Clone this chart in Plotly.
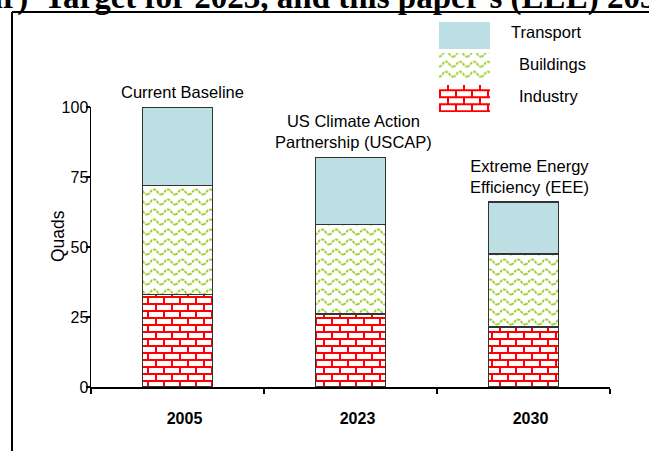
import plotly.graph_objects as go

# ---- data -------------------------------------------------------------
years = ["2005", "2023", "2030"]
scenarios = ["Current Baseline", "US Climate Action<br>Partnership (USCAP)",
             "Extreme Energy<br>Efficiency (EEE)"]
industry = [33, 26, 21.5]
buildings = [39, 32, 26]
transport = [28, 24, 18.5]
series_names = ["Industry", "Buildings", "Transport"]
y_ticks = [0, 25, 50, 75, 100]

W, H = 649, 451
FONT = "Liberation Sans, Arial, sans-serif"

# plot rectangle in pixels
PX0, PX1, PY_TOP, PY_BOT = 91, 610, 107, 387


def px(x):
    return x / W


def py(y):
    return 1 - y / H


TRANSPORT_FILL = "#BBDFE3"
BRICK_RED = "#ff0000"
WAVE_GREEN = "#9acd32"
OUTLINE = dict(color="#333333", width=1.5)

fig = go.Figure()

# stacked bars: industry (bricks), buildings (waves), transport (plain)
fig.add_trace(go.Bar(
    x=years, y=industry, name="Industry", width=0.405,
    marker=dict(color="white", line=OUTLINE,
                pattern=dict(shape="+", fgcolor=BRICK_RED, bgcolor="white",
                             size=10, solidity=0.3)),
    showlegend=False, hoverinfo="skip"))
fig.add_trace(go.Bar(
    x=years, y=buildings, name="Buildings", width=0.405,
    marker=dict(color="white", line=OUTLINE,
                pattern=dict(shape="-", fgcolor=WAVE_GREEN, bgcolor="white",
                             size=10, solidity=0.2)),
    showlegend=False, hoverinfo="skip"))
fig.add_trace(go.Bar(
    x=years, y=transport, name="Transport", width=0.405,
    marker=dict(color=TRANSPORT_FILL, line=OUTLINE),
    showlegend=False, hoverinfo="skip"))

# legend swatches drawn as bars on a hidden helper axis
swatch_style = {
    "Industry": dict(color="white",
                     pattern=dict(shape="+", fgcolor=BRICK_RED, bgcolor="white",
                                  size=10, solidity=0.3)),
    "Buildings": dict(color="white",
                      pattern=dict(shape="-", fgcolor=WAVE_GREEN, bgcolor="white",
                                   size=10, solidity=0.2)),
    "Transport": dict(color=TRANSPORT_FILL),
}
for name in series_names:
    fig.add_trace(go.Bar(
        x=[1], y=[name], orientation="h", width=0.853,
        marker=dict(line=dict(width=0), **swatch_style[name]),
        xaxis="x2", yaxis="y2", showlegend=False, hoverinfo="skip"))

annotations = []
# scenario labels above each bar
label_pos = [(182, 92), (353, 131.5), (529, 176)]
for (lx, ly), text in zip(label_pos, scenarios):
    annotations.append(dict(
        x=px(lx), y=py(ly), xref="paper", yref="paper", text=text,
        showarrow=False, xanchor="center", yanchor="middle",
        font=dict(family=FONT, size=16.5, color="black")))

# legend labels
legend_pos = [(509, 32), (517, 64), (517, 96)]
for (lx, ly), text in zip(legend_pos, ["Transport", "Buildings", "Industry"]):
    annotations.append(dict(
        x=px(lx), y=py(ly), xref="paper", yref="paper", text=text,
        showarrow=False, xanchor="left", yanchor="middle",
        font=dict(family=FONT, size=16.5, color="black")))

# y-axis title
annotations.append(dict(
    x=px(58), y=py(236), xref="paper", yref="paper", text="Quads",
    textangle=-90, showarrow=False, xanchor="center", yanchor="middle",
    font=dict(family=FONT, size=17.5, color="black")))

# heading line running off the top of the page
TITLE_FONT = dict(family="Liberation Serif, Times New Roman, serif",
                  size=33, color="black", weight="bold")
annotations.append(dict(
    x=px(30), y=py(-3), xref="paper", yref="paper", text="year)",
    showarrow=False, xanchor="right", yanchor="middle", font=TITLE_FONT))
annotations.append(dict(
    x=px(42), y=py(-3), xref="paper", yref="paper",
    text="Target for 2023, and this paper's (EEE) 2030",
    showarrow=False, xanchor="left", yanchor="middle", font=TITLE_FONT))

# page frame: top and left rules
shapes = [
    dict(type="line", xref="paper", yref="paper", x0=px(12), x1=1.0,
         y0=py(12), y1=py(12), line=dict(color="black", width=2)),
    dict(type="line", xref="paper", yref="paper", x0=px(12), x1=px(12),
         y0=py(12), y1=0, line=dict(color="black", width=2)),
]

fig.update_layout(
    width=W, height=H, autosize=False,
    margin=dict(l=0, r=0, t=0, b=0, pad=0, autoexpand=False),
    paper_bgcolor="white", plot_bgcolor="white",
    barmode="stack", bargap=0,
    annotations=annotations, shapes=shapes,
    xaxis=dict(domain=[px(PX0), px(PX1)], type="category",
               categoryorder="array", categoryarray=years,
               range=[-0.5, 2.5], showline=True, linecolor="black",
               linewidth=1.5, ticks="outside", ticklen=5, tickcolor="black",
               tickwidth=1.2, tickson="boundaries", showgrid=False,
               tickfont=dict(family=FONT, size=16, color="black",
                             weight="bold"),
               ticklabelstandoff=16, ticklabelshift=7, zeroline=False),
    yaxis=dict(domain=[py(PY_BOT), py(PY_TOP)], range=[0, 100],
               tickvals=y_ticks, showline=True, linecolor="black",
               linewidth=1.5, ticks="outside", ticklen=4, tickcolor="black",
               tickwidth=1.2, showgrid=False, zeroline=False,
               tickfont=dict(family=FONT, size=16, color="black"),
               ticklabelstandoff=-6),
    xaxis2=dict(domain=[px(439), px(490)], range=[0, 1], visible=False,
                anchor="y2", fixedrange=True),
    yaxis2=dict(domain=[py(114.25), py(19.25)], range=[-0.5, 2.5],
                type="category", categoryorder="array",
                categoryarray=series_names, visible=False, anchor="x2",
                fixedrange=True),
)

# Swap plotly's simple hatch tiles for brick and wave tiles.
post_js = """
document.body.style.margin = '0';
var gd = document.getElementById('{plot_id}');
var brick = '<rect width="16" height="14" fill="#ffffff"></rect>' +
  '<path d="M0,1H16M0,8H16M1,1V8M9,8V14" stroke="#ff0000" ' +
  'stroke-width="2" fill="none"></path>';
var wave = '<rect width="14" height="10" fill="#ffffff"></rect>' +
  '<path d="M0,7.5C3.5,7.5 3.5,2.5 7,2.5C10.5,2.5 10.5,7.5 14,7.5" ' +
  'stroke="#a2d034" stroke-width="2" fill="none" ' +
  'stroke-dasharray="3 1"></path>';
var pats = gd.querySelectorAll('pattern');
pats.forEach(function (p) {
  var h = p.innerHTML;
  if (/255,\\s*0,\\s*0/.test(h)) {
    p.setAttribute('width', '16'); p.setAttribute('height', '14');
    p.innerHTML = brick;
  } else if (/154,\\s*205,\\s*50/.test(h)) {
    p.setAttribute('width', '14'); p.setAttribute('height', '10');
    p.innerHTML = wave;
  }
});
"""

fig.write_html("out.html", post_script=post_js,
               default_width="649px", default_height="451px",
               config={"staticPlot": True, "responsive": False})
